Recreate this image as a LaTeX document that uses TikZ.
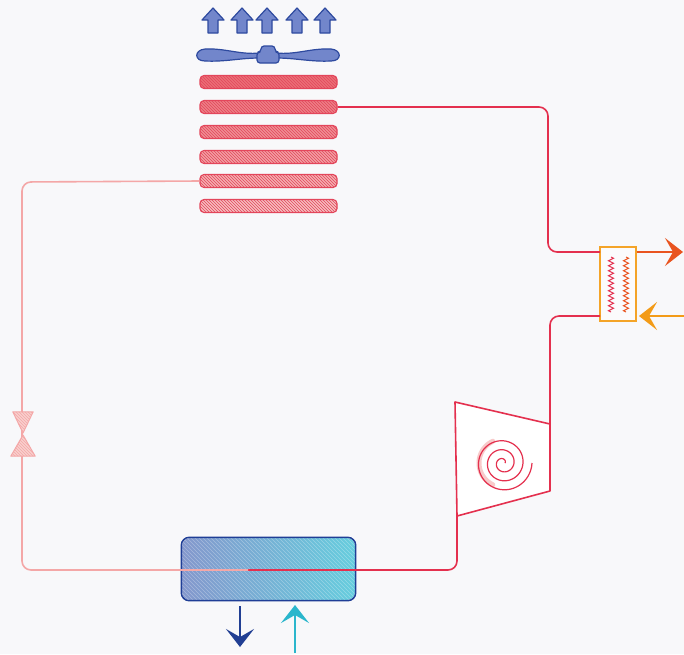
\documentclass[tikz,border=0pt]{standalone}
\usetikzlibrary{patterns,arrows.meta,decorations.pathmorphing}

\definecolor{bg}{HTML}{F8F8FA}
\definecolor{pipered}{HTML}{E4304E}
\definecolor{pipepink}{HTML}{F4A7A7}
\definecolor{coilline}{HTML}{E3465B}
\definecolor{coilhot}{HTML}{EB6F77}
\definecolor{coilcool}{HTML}{F9D3D2}
\definecolor{fanblue}{HTML}{7286CB}
\definecolor{fanline}{HTML}{2E4A9F}
\definecolor{hxorange}{HTML}{F4A428}
\definecolor{hotout}{HTML}{E9541F}
\definecolor{hotin}{HTML}{F39B17}
\definecolor{evapleft}{HTML}{8497CC}
\definecolor{evapright}{HTML}{66CDDE}
\definecolor{evapline}{HTML}{1F3E96}
\definecolor{coldout}{HTML}{213F93}
\definecolor{coldin}{HTML}{2BB6CC}
\definecolor{valvefill}{HTML}{F9D0CE}

\begin{document}
\begin{tikzpicture}[x=1pt, y=-1pt,
  flowtip/.style={-{Stealth[length=18pt, width=28pt, inset=8pt]}},
  coil/.style={draw=coilline, line width=1.1pt, rounded corners=4pt, minimum width=137pt,
    minimum height=13pt, inner sep=0pt,
    postaction={pattern=north west lines, pattern color=coilline, fill opacity=0.3}},
  pipe/.style={line width=1.6pt, rounded corners=9pt},
  blade/.style={draw=fanline, fill=fanblue, line width=1.2pt, line join=round}]
  \fill[bg] (0,0) rectangle (684,654);
  \useasboundingbox (0,0) rectangle (684,654);

  % fan with air arrows
  \foreach \x in {213,242,267,297,325}
    \draw[blade] (\x,8) -- (\x+11,20) -- (\x+5,20) -- (\x+5,33) -- (\x-5,33) -- (\x-5,20) -- (\x-11,20) -- cycle;
  \draw[blade] (260,53) .. controls (240,55) and (225,48) .. (205,49)
    .. controls (194,50) and (194,61) .. (205,61) .. controls (225,62) and (240,58) .. (260,58) -- cycle;
  \draw[blade] (276,53) .. controls (296,55) and (311,48) .. (331,49)
    .. controls (342,50) and (342,61) .. (331,61) .. controls (311,62) and (296,58) .. (276,58) -- cycle;
  \draw[blade, rounded corners=3pt] (257,63) -- (257,52) -- (261,52) -- (261,46) -- (275,46) -- (275,52) -- (279,52) -- (279,63) -- cycle;

  % condenser coil
  \foreach \i/\y/\m in {1/82/100, 2/107/84, 3/132/68, 4/157/52, 5/181/36, 6/206/20}
    \node[coil, fill=coilhot!\m!coilcool] (c\i) at (268.5,\y) {};

  % evaporator, hatched by hand inside its outline
  \node[line width=1.4pt, rounded corners=8pt, minimum width=173pt, minimum height=62pt,
    inner sep=0pt, left color=evapleft, right color=evapright] (evap) at (268.5,569) {};
  \begin{scope}
    \clip[rounded corners=8pt] (evap.north west) rectangle (evap.south east);
    \foreach \s in {-64,-60,...,176}
      \draw[white, opacity=0.3, line width=0.6pt] (182+\s,537) -- (246+\s,601);
  \end{scope}
  \draw[evapline, line width=1.5pt, rounded corners=8pt] (evap.north west) rectangle (evap.south east);
  \draw[flowtip, coldout, line width=2pt] (240,606) -- (240,647);
  \draw[flowtip, coldin, line width=2pt] (295,653) -- (295,605);

  % heat exchanger
  \node[draw=hxorange, line width=1.3pt, minimum width=36pt, minimum height=74pt, inner sep=0pt,
    fill=white, fill opacity=0.5] (hx) at (618,284) {};
  \coordinate (hxa) at (600,252);
  \coordinate (hxb) at (600,316);
  \draw[pipered, line width=1pt, decorate, decoration={zigzag, amplitude=2.5pt, segment length=5pt}] (611,257) -- (611,312);
  \draw[hotout, line width=1pt, decorate, decoration={zigzag, amplitude=2.5pt, segment length=5pt}] (626,257) -- (626,312);
  \draw[flowtip, hotout, line width=2pt] (hx.east |- hxa) -- (683,252);
  \draw[flowtip, hotin, line width=2pt] (684,316) -- (639,316);

  % compressor
  \draw[pipered, line width=1.6pt, fill=white, line join=round]
    (455,402) coordinate (cp1) -- (550,424) coordinate (cp2) -- (550,491) -- (457,516) coordinate (cp4) -- cycle;
  \draw[pipepink!60, line width=5pt, line cap=round, domain=115:245, samples=30, variable=\t]
    plot ({503+24*cos(\t)}, {463+24*sin(\t)});
  \draw[pipered, line width=1.2pt, domain=0:1080, samples=160, variable=\t]
    plot ({503+(2+\t/1080*27)*cos(\t)}, {463-(2+\t/1080*27)*sin(\t)});

  % refrigerant loop
  \draw[pipe, pipered] (c2.east) -- (548,107) -- (548,252) -- (hxa);
  \draw[pipe, pipered] (hxb) -- (550,316) -- (cp2);
  \draw[pipe, pipered] (cp4) -- (457,570) -- (248,570);
  \draw[pipe, pipepink] (248,570) -- (22,570) -- (22,182) -- (c5.west);

  % expansion valve
  \node[inner sep=0pt, minimum width=24pt, minimum height=44pt] (valve) at (23,434) {};
  \draw[pipepink, fill=valvefill, line width=1pt, line join=round,
    postaction={pattern=north west lines, pattern color=pipepink}]
    ([xshift=2pt]valve.north west) -- ([xshift=-2pt]valve.north east) -- ([yshift=1pt]valve.center) -- cycle
    ([yshift=-1pt]valve.center) -- (valve.south east) -- (valve.south west) -- cycle;
\end{tikzpicture}
\end{document}
